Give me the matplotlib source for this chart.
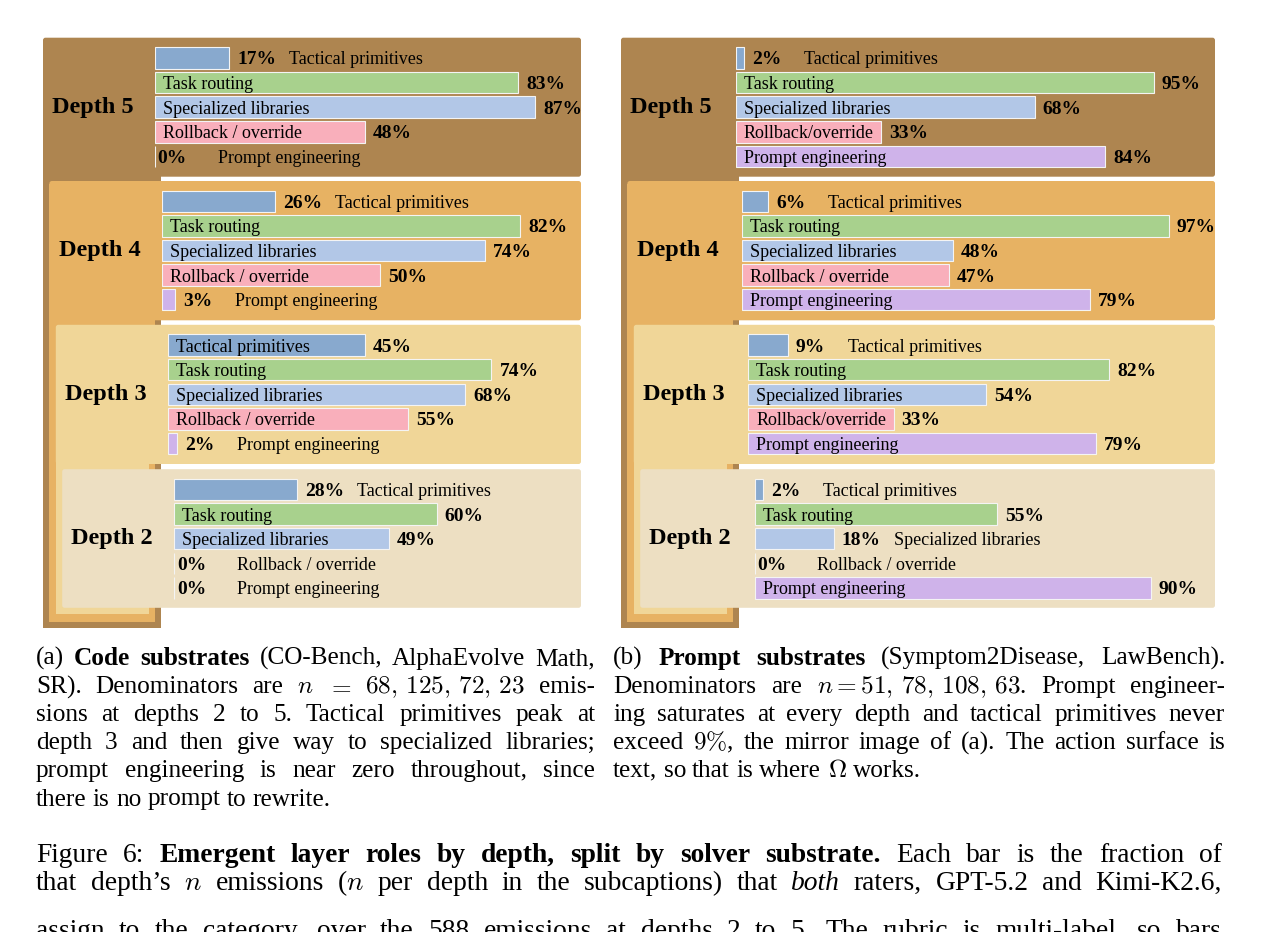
import numpy as np
import matplotlib
matplotlib.use("Agg")
import matplotlib.pyplot as plt
from matplotlib.patches import FancyBboxPatch, Rectangle

plt.rcParams["font.family"] = ["Liberation Serif", "DejaVu Serif"]
plt.rcParams["mathtext.fontset"] = "cm"

W, H, DPI = 1261, 932, 100

# ---- data ---------------------------------------------------------------
categories = ["Tactical primitives", "Task routing", "Specialized libraries",
              "Rollback / override", "Prompt engineering"]
depths = ["Depth 5", "Depth 4", "Depth 3", "Depth 2"]

code_d5 = [17, 83, 87, 48, 0]
code_d4 = [26, 82, 74, 50, 3]
code_d3 = [45, 74, 68, 55, 2]
code_d2 = [28, 60, 49, 0, 0]

prompt_d5 = [2, 95, 68, 33, 84]
prompt_d4 = [6, 97, 48, 47, 79]
prompt_d3 = [9, 82, 54, 33, 79]
prompt_d2 = [2, 55, 18, 0, 90]

bar_colors = ["#88A9CE", "#A8D18D", "#B2C7E7", "#F9AFBB", "#CFB3EA"]
box_colors = ["#AE8550", "#E7B263", "#F0D698", "#EDDFC2"]

N, B, I = {}, {"fontweight": "bold"}, {"fontstyle": "italic"}
caption_a = [
    [("(a)", N), ("Code substrates", B), ("(CO-Bench, AlphaEvolve Math,", N)],
    [("SR). Denominators are $n$ $=$ $68,\\,125,\\,72,\\,23$ emis-", N)],
    [("sions at depths 2 to 5. Tactical primitives peak at", N)],
    [("depth 3 and then give way to specialized libraries;", N)],
    [("prompt engineering is near zero throughout, since", N)],
    [("there is no prompt to rewrite.", N)],
]
caption_b = [
    [("(b)", N), ("Prompt substrates", B), ("(Symptom2Disease, LawBench).", N)],
    [("Denominators are $n=51,\\,78,\\,108,\\,63$. Prompt engineer-", N)],
    [("ing saturates at every depth and tactical primitives never", N)],
    [("exceed $9\\%$, the mirror image of (a). The action surface is", N)],
    [("text, so that is where $\\Omega$ works.", N)],
]
caption_fig = [
    [("Figure 6:", N), ("Emergent layer roles by depth, split by solver substrate.", B),
     ("Each bar is the fraction of", N)],
    [("that depth\u2019s $n$ emissions ($n$ per depth in the subcaptions) that", N),
     ("both", I), ("raters, GPT-5.2 and Kimi-K2.6,", N)],
    [("assign to the category, over the 588 emissions at depths 2 to 5. The rubric is multi-label, so bars", N)],
]

# ---- figure ---------------------------------------------------------------
fig = plt.figure(figsize=(W / DPI, H / DPI), dpi=DPI)
bg = fig.add_axes([0, 0, 1, 1])
bg.set_xlim(0, W)
bg.set_ylim(H, 0)
bg.axis("off")
renderer = fig.canvas.get_renderer()


def px_axes(x, y, w, h):
    return fig.add_axes([x / W, 1 - (y + h) / H, w / W, h / H])


def text_w(s, size, **kw):
    t = bg.text(0, 0, s, fontsize=size, **kw)
    w = t.get_window_extent(renderer=renderer).width
    t.remove()
    return w


box_tops = [37.7, 181.0, 324.8, 469.2]
box_bots = [176.7, 320.3, 464.0, 607.8]
tab_bots = [628.3, 621.5, 614.2]
tab_w = [118, 106, 93]
step = 6.4
row_h = 24.6
name_fs, pct_fs = 13, 14
px2pt = 72 / DPI


def draw_panel(left, right, bar_off, scale, values):
    for i in range(4):
        L = left + i * step
        top, bot = box_tops[i], box_bots[i]
        c = box_colors[i]
        if i < 3:
            bg.add_patch(Rectangle((L, top + 3), tab_w[i], tab_bots[i] - top - 3,
                                   facecolor=c, lw=0))
        bg.add_patch(FancyBboxPatch((L, top), right - L, bot - top,
                                    boxstyle="round,pad=0,rounding_size=2.5",
                                    fc=c, ec="none"))
        bg.text(L + 50, (top + bot) / 2, depths[i], ha="center", va="center",
                fontsize=17.5, fontweight="bold")

        x0 = L + bar_off
        ax = px_axes(x0, top + 20.3 - row_h / 2, 100 * scale, 5 * row_h)
        ax.set_xlim(0, 100)
        ax.set_ylim(4.5, -0.5)
        ax.axis("off")
        vals = values[i]
        ax.barh(np.arange(5), vals, height=0.87, color=bar_colors,
                edgecolor="#F4F4F4", linewidth=0.8)

        for k, v in enumerate(vals):
            name = categories[k]
            compact = name.replace(" / ", "/")
            bar_px = v * scale
            inside = None
            if bar_px >= text_w(name, name_fs) + 12:
                inside = name
            elif bar_px >= text_w(compact, name_fs) + 6:
                inside = compact
            lab = dict(textcoords="offset points", va="center_baseline", ha="left",
                       annotation_clip=False)
            if inside:
                ax.annotate(inside, (0, k), xytext=(8 * px2pt, 0), fontsize=name_fs, **lab)
                ax.annotate(f"{v}%", (v, k), xytext=(8 * px2pt, 0), fontsize=pct_fs,
                            fontweight="bold", **lab)
            else:
                if v == 0:
                    dp, dn = 2.5, 62.5
                else:
                    dp, dn = 8, 60
                ax.annotate(f"{v}%", (v, k), xytext=(dp * px2pt, 0), fontsize=pct_fs,
                            fontweight="bold", **lab)
                ax.annotate(name, (v, k), xytext=(dn * px2pt, 0), fontsize=name_fs, **lab)


draw_panel(43.0, 581, 112.2, 4.37, [code_d5, code_d4, code_d3, code_d2])
draw_panel(621.0, 1215, 114.5, 4.40, [prompt_d5, prompt_d4, prompt_d3, prompt_d2])


def put_line(runs, x0, x1, y, size, justify=True):
    # place words one by one so the line is justified like the LaTeX source
    items = []
    for s, style in runs:
        for w in s.split():
            items.append(bg.text(0, y, w, fontsize=size, va="baseline", ha="left", **style))
    widths = [t.get_window_extent(renderer=renderer).width for t in items]
    space = 0.25 * size / px2pt
    if justify and len(items) > 1:
        gap = max((x1 - x0 - sum(widths)) / (len(items) - 1), 0.6 * space)
    else:
        gap = space
    x = x0
    for t, w in zip(items, widths):
        t.set_x(x)
        x += w + gap


for j, runs in enumerate(caption_a):
    put_line(runs, 36, 595, 665 + j * 28.1, 18.2, justify=j < len(caption_a) - 1)
for j, runs in enumerate(caption_b):
    put_line(runs, 613, 1225, 665 + j * 28.1, 18.2, justify=j < len(caption_b) - 1)
for j, (runs, y) in enumerate(zip(caption_fig, [862, 890, 938])):
    put_line(runs, 36, 1222, y, 19.8)

fig.savefig("out.png", dpi=DPI)
